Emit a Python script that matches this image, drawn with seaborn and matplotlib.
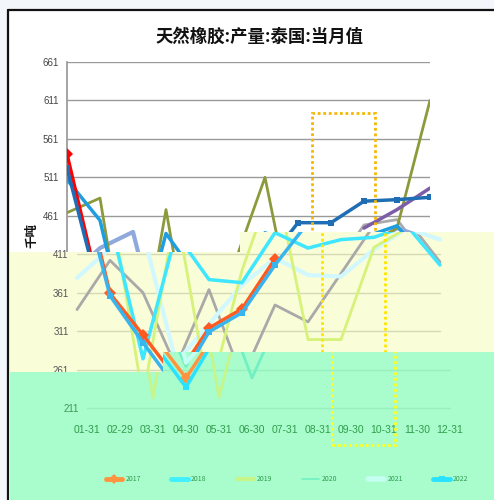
import numpy as np
import pandas as pd
import matplotlib
matplotlib.use("Agg")
import matplotlib.pyplot as plt
import seaborn as sns
from matplotlib.patches import Polygon, Rectangle
from matplotlib.lines import Line2D

nan = np.nan
months = ["01-31", "02-29", "03-31", "04-30", "05-31", "06-30",
          "07-31", "08-31", "09-30", "10-31", "11-30", "12-31"]
y_ticks = [211, 261, 311, 361, 411, 461, 511, 561, 611, 661]
title = "天然橡胶:产量:泰国:当月值"
unit = "千吨"

s2017 = [541, 360, 306, 250, 315, 340, 405, nan, nan, nan, nan, nan]
s2018 = [508, 455, 275, 438, 378, 374, 439, 419, 430, 433, 448, 397]
s2019 = [465, 484, 224, 469, 225, 390, 511, 300, 300, 420, 445, 611]
s2020 = [339, 403, 361, 265, 365, 250, 345, 323, 386, 449, 456, 401]
s2021 = [380, 419, 440, 270, 320, 371, 406, 384, 382, 417, 445, 430]
s2022 = [523, 357, 296, 238, 310, 335, 397, 452, 452, 480, 482, 485]
s2016 = [nan, nan, nan, nan, nan, nan, nan, nan, nan, 445, 469, 497]

series = [("2020", s2020, dict(lw=2.0)),
          ("2021", s2021, dict(lw=3.0)),
          ("2019", s2019, dict(lw=2.0)),
          ("2018", s2018, dict(lw=2.5)),
          ("2016", s2016, dict(lw=2.5)),
          ("2017", s2017, dict(lw=2.5, marker="D", ms=6)),
          ("2022", s2022, dict(lw=2.5, marker="s", ms=5))]

pal_main = {"2017": "#FF0000", "2018": "#1E9EE0", "2019": "#8C9A3C", "2020": "#AAAAAA",
            "2021": "#8FA9DC", "2022": "#1F6EB5", "2016": "#7D5CA8"}
pal_yel = {"2017": "#FF5A22", "2018": "#3EE6FF", "2019": "#D6F27A", "2020": "#A9A9A9",
           "2021": "#D2F8FF", "2022": "#38B4EE", "2016": "#B0A0FF"}
pal_grn = {"2017": "#FF9440", "2018": "#40F0FF", "2019": "#C6F58A", "2020": "#72F0C4",
           "2021": "#C4FFF2", "2022": "#28E2FF", "2016": "#B0A0FF"}

sns.set_theme(style="white")
plt.rcParams["font.family"] = ["Noto Sans CJK SC", "DejaVu Sans"]
narrow = ["Liberation Sans Narrow", "Liberation Sans", "DejaVu Sans"]

W, H = 494, 500
fig = plt.figure(figsize=(4.94, 5.0), dpi=100, facecolor="#F3F6FB")


def fx(px):
    return px / W


def fy(py):
    return 1 - py / H


def fpoly(pts, **kw):
    return Polygon([(fx(a), fy(b)) for a, b in pts], closed=True,
                   transform=fig.transFigure, **kw)


# white card
fig.patches.append(Rectangle((fx(8), fy(510)), fx(510) - fx(8), fy(10) - fy(510),
                             transform=fig.transFigure, facecolor="white",
                             edgecolor="none", zorder=-5))

AX_L, AX_R, AX_T, AX_B = 67, 430, 62, 408
x = np.arange(len(months))

yel_pts = [(10, 252), (240, 252), (240, 232), (494, 232), (494, 352),
           (163, 352), (163, 372), (10, 372)]
grn_pts = [(10, 372), (163, 372), (163, 352), (494, 352), (494, 500), (10, 500)]


def make_ax(dx, z):
    ax = fig.add_axes([fx(AX_L + dx), fy(AX_B), (AX_R - AX_L) / W, (AX_B - AX_T) / H])
    ax.set_zorder(z)
    ax.patch.set_alpha(0)
    ax.set_xlim(0, 11)
    ax.set_ylim(211, 661)
    for s in ["top", "right", "bottom"]:
        ax.spines[s].set_visible(False)
    return ax


def clip_to(artist, pts):
    artist.set_clip_path(fpoly(pts))
    artist.set_clip_box(None)


def draw_lines(ax, pal, pts=None):
    for name, vals, st in series:
        sns.lineplot(x=x, y=vals, ax=ax, color=pal[name], linewidth=st["lw"],
                     marker=st.get("marker"), markersize=st.get("ms", 0),
                     markeredgewidth=0, legend=False, zorder=3)
        ln = ax.lines[-1]
        if pts is not None:
            clip_to(ln, pts)


def draw_box(ax, color, pts=None):
    r = Rectangle((7.42, 163), 1.91, 432, fill=False, edgecolor=color, lw=2,
                  linestyle=(0, (1, 1)), zorder=4)
    ax.add_patch(r)
    if pts is None:
        r.set_clip_on(False)
    else:
        clip_to(r, pts)


# ---------- main layer ----------
ax = make_ax(0, 0)
ax.spines["left"].set_color("#999999")
ax.set_yticks(y_ticks)
ax.set_yticklabels([str(v) if v >= 461 else "" for v in y_ticks],
                   family=narrow, fontsize=7, color="#444444")
ax.yaxis.grid(True, color="#9A9A9A", lw=1)
ax.set_xticks(x)
ax.set_xticklabels([])
ax.tick_params(axis="both", length=0, pad=6)
draw_lines(ax, pal_main)
draw_box(ax, "#F5B800")
ax.set_ylabel(unit, fontsize=9, fontweight="bold", color="#111111", labelpad=3)

fig.text(fx(260), fy(37), title, ha="center", va="center", fontsize=12.5,
         fontweight="bold", color="#111111")

# ---------- yellow band ----------
fig.patches.append(fpoly(yel_pts, facecolor="#F9FDD8", edgecolor="none", zorder=1))
ay = make_ax(10, 2)
ay.spines["left"].set_visible(False)
ay.set_yticks([261, 311, 361, 411])
ay.set_yticklabels(["261", "311", "361", "411"], family=narrow, fontsize=7, color="#555555")
ay.yaxis.grid(True, color="#D6DAB4", lw=1)
ay.set_xticks([])
ay.tick_params(axis="both", length=0, pad=6)
draw_lines(ay, pal_yel, yel_pts)
draw_box(ay, "#FFE600", yel_pts)
for g in ay.yaxis.get_gridlines():
    clip_to(g, yel_pts)

# ---------- green band ----------
fig.patches.append(fpoly(grn_pts, facecolor="#A9FCCB", edgecolor="none", zorder=3))
ag = make_ax(20, 4)
ag.spines["left"].set_visible(False)
ag.set_yticks([211, 261])
ag.set_yticklabels(["211", ""], family=narrow, fontsize=7, color="#3C9A50")
ag.yaxis.grid(True, color="#98F0BE", lw=1)
for g in ag.yaxis.get_gridlines():
    clip_to(g, grn_pts)
ag.set_xticks(x)
ag.set_xticklabels(months, family=narrow, fontsize=7.5, color="#2E9E4A")
ag.tick_params(axis="x", length=0, pad=12)
ag.tick_params(axis="y", length=0, pad=6)
draw_lines(ag, pal_grn, grn_pts)
draw_box(ag, "#FFFF20", grn_pts)

leg_order = [("2017", "D"), ("2018", None), ("2019", None), ("2020", None),
             ("2021", None), ("2022", "s")]
lw_map = {n: st["lw"] for n, _, st in series}
handles = [Line2D([0], [0], color=pal_grn[n], lw=(1.2 if n == "2020" else lw_map[n] + 1),
                  marker=m, ms=5, markeredgewidth=0) for n, m in leg_order]
ag.legend(handles, [n for n, _ in leg_order], loc="center",
          bbox_to_anchor=(fx(287), fy(479)), bbox_transform=fig.transFigure,
          ncol=6, frameon=False, fontsize=5, handlelength=2.4, handletextpad=0.4,
          columnspacing=4.4, labelcolor="#2F9E50")

# card border on top
fig.add_artist(Line2D([fx(8), fx(8)], [fy(500), fy(10)], color="#111111", lw=1.6,
                      transform=fig.transFigure, zorder=10))
fig.add_artist(Line2D([fx(8), fx(494)], [fy(10), fy(10)], color="#111111", lw=1.6,
                      transform=fig.transFigure, zorder=10))

fig.savefig("out.png", dpi=100, facecolor=fig.get_facecolor())
